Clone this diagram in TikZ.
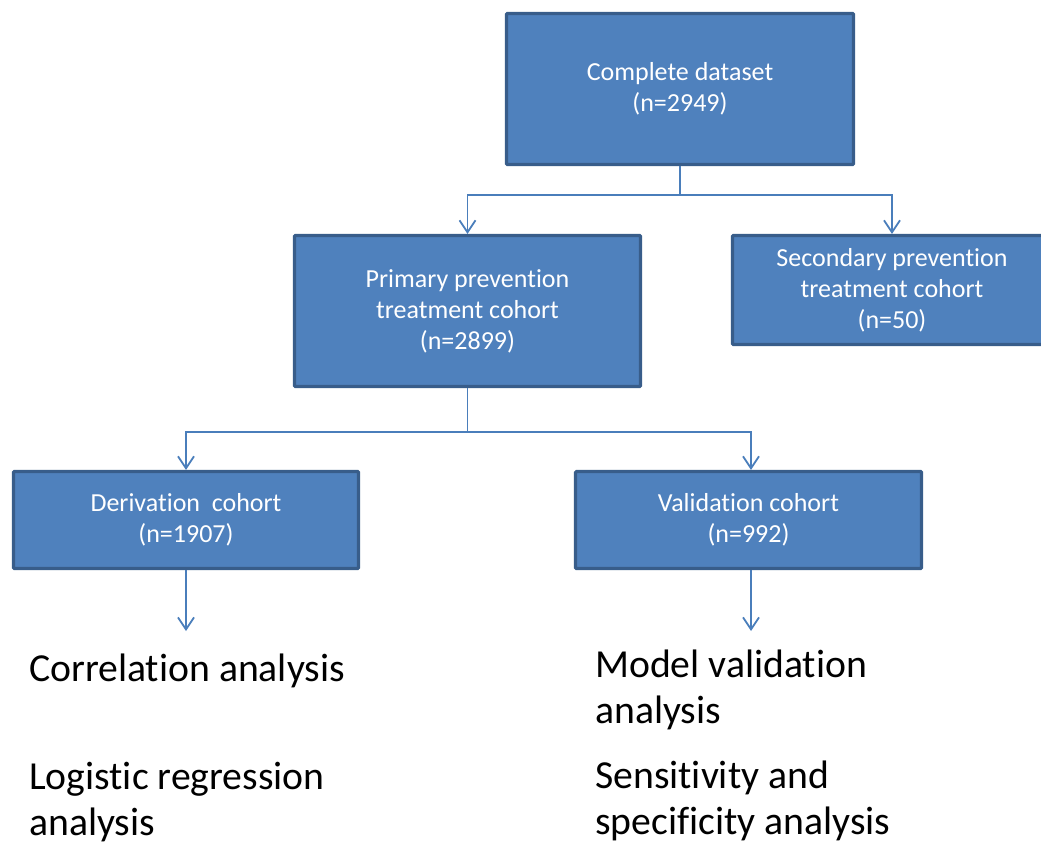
\documentclass[tikz,border=0pt]{standalone}
\usepackage{fontspec}
\setmainfont{Carlito}[Ligatures=CommonOff]
\usetikzlibrary{arrows.meta,calc}
\definecolor{boxfill}{HTML}{4F81BD}
\definecolor{boxedge}{HTML}{385D8A}
\definecolor{linkcol}{HTML}{4A7EBB}
\tikzset{
  cohort/.style={rectangle, draw=boxedge, fill=boxfill, line width=3.2pt,
    rounded corners=1pt, text=white, align=center, inner sep=0pt,
    font=\fontsize{26}{31}\selectfont},
  link/.style={draw=linkcol, line width=1.8pt},
  linkarrow/.style={link, -{Straight Barb[length=12pt, width=16pt, line width=1.8pt]}},
  result/.style={anchor=base west, align=left, inner sep=0pt, text=black,
    font=\fontsize{39.7}{46}\selectfont}
}
\begin{document}
\begin{tikzpicture}[x=1pt, y=-1pt]
\useasboundingbox (0,0) rectangle (1041,843);

% cohort boxes
\node[cohort, minimum width=347pt, minimum height=151pt] (complete) at (680,89)
  {Complete dataset\\(n=2949)};
\node[cohort, minimum width=346pt, minimum height=151pt] (primary) at (467.5,311)
  {Primary prevention\\treatment cohort\\(n=2899)};
\node[cohort, minimum width=319pt, minimum height=109pt] (secondary) at (892,290)
  {Secondary prevention\\treatment cohort\\(n=50)};
\node[cohort, minimum width=345pt, minimum height=97pt] (derivation) at (186,520)
  {Derivation\ \ cohort\\(n=1907)};
\node[cohort, minimum width=346pt, minimum height=97pt] (validation) at (748.5,520)
  {Validation cohort\\(n=992)};

% branch points and free arrow ends
\coordinate (split1) at (680,195);
\coordinate (split2) at (467.5,432);
\coordinate (dertip) at (186,631);
\coordinate (valtip) at (751,631);

% connectors
\draw[link] (complete.south) -- (split1);
\draw[linkarrow] (split1) -| (primary.north);
\draw[linkarrow] (split1) -| (secondary.north);
\draw[link] (primary.south) -- (split2);
\draw[linkarrow] (split2) -| (derivation.north);
\draw[linkarrow] (split2) -| ($(validation.north)+(2.5,0)$);
\draw[linkarrow] (validation.south -| valtip) -- (valtip);
\draw[linkarrow] (derivation.south) -- (dertip);

% analyses (base anchor sits on the last line)
\node[result] (corr) at (29,681) {Correlation analysis};
\node[result] (logit) at (29,835) {Logistic regression\\analysis};
\node[result] (modval) at (595,723) {Model validation\\analysis};
\node[result] (sens) at (595,834) {Sensitivity and\\specificity analysis};
\end{tikzpicture}
\end{document}
